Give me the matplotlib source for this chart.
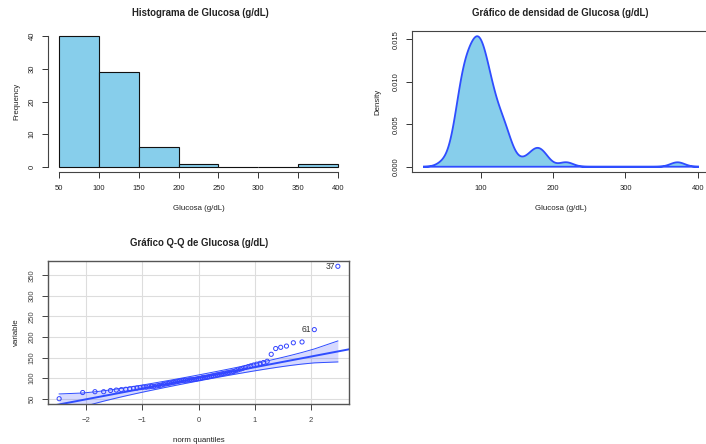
import numpy as np
import matplotlib
matplotlib.use("Agg")
import matplotlib.pyplot as plt
from math import erf, sqrt, pi

plt.rcParams['font.family'] = ['Liberation Sans', 'DejaVu Sans']

glucosa_bajos = [50, 65, 67, 67, 70, 71, 72, 73, 74, 75,
                 76, 77, 78, 78, 79, 80, 80, 81, 82, 83,
                 85, 86, 87, 88, 89, 90, 91, 92, 93, 94,
                 94, 95, 95, 96, 96, 97, 97, 98, 99, 99]
glucosa_medios = [101, 102, 102, 103, 104, 105, 106, 107, 108, 109,
                  110, 111, 112, 113, 114, 115, 116, 118, 120, 122,
                  124, 126, 128, 130, 132, 134, 136, 138, 141]
glucosa_altos = [158, 172, 175, 178, 186, 188, 218, 372]
ids_altos = ['61', '37']  # etiquetas de los dos extremos

bins_hist = [50, 100, 150, 200, 250, 300, 350, 400]
ticks_hist_x = [50, 100, 150, 200, 250, 300, 350, 400]
ticks_hist_y = [0, 10, 20, 30, 40]
ticks_dens_x = [100, 200, 300, 400]
ticks_dens_y = [0.000, 0.005, 0.010, 0.015]
ticks_qq_x = [-2, -1, 0, 1, 2]
ticks_qq_y = [50, 100, 150, 200, 250, 300, 350]

glucosa = np.array(glucosa_bajos + glucosa_medios + glucosa_altos, dtype=float)
n = len(glucosa)

W, H = 706, 444
fig = plt.figure(figsize=(W / 100, H / 100), dpi=100)


def px(l, t, r, b):
    return [l / W, 1 - b / H, (r - l) / W, (b - t) / H]


def r_range(lo, hi):
    # margen del 4% como en R
    d = (hi - lo) * 0.04
    return lo - d, hi + d


def qnorm(p):
    lo, hi = -10.0, 10.0
    for _ in range(80):
        mid = (lo + hi) / 2
        if 0.5 * (1 + erf(mid / sqrt(2))) < p:
            lo = mid
        else:
            hi = mid
    return (lo + hi) / 2


AXCOL = '#333333'
TXT = '#222222'
AZUL = '#2f4dff'
fs_tick = 5.5
fs_lab = 5.7
fs_title = 6.9

# ---------- histograma ----------
ax1 = fig.add_axes(px(48, 31, 349, 172))
ax1.hist(glucosa, bins=bins_hist, color='#87CEEB', edgecolor='#111111', linewidth=0.8)
ax1.set_xlim(*r_range(50, 400))
ax1.set_ylim(*r_range(0, 40))
for s in ['top', 'right']:
    ax1.spines[s].set_visible(False)
ax1.spines['left'].set_bounds(0, 40)
ax1.spines['bottom'].set_bounds(50, 400)
ax1.set_xticks(ticks_hist_x)
ax1.set_yticks(ticks_hist_y)
ax1.set_yticklabels([str(t) for t in ticks_hist_y], rotation=90, va='center')
ax1.set_xlabel('Glucosa (g/dL)', fontsize=fs_lab, labelpad=10, color=TXT)
ax1.set_ylabel('Frequency', fontsize=fs_lab, labelpad=6, color=TXT)
fig.text(200 / W, 1 - 13 / H, 'Histograma de Glucosa (g/dL)', ha='center', va='center',
         fontsize=fs_title, fontweight='bold', color=TXT)

# ---------- densidad (kernel gaussiano, bw.nrd0 como R) ----------
q1, q3 = np.percentile(glucosa, [25, 75])
bw = 0.9 * min(glucosa.std(ddof=1), (q3 - q1) / 1.34) * n ** -0.2
xs = np.linspace(glucosa.min() - 3 * bw, glucosa.max() + 3 * bw, 512)
dens = np.exp(-0.5 * ((xs[:, None] - glucosa[None, :]) / bw) ** 2).sum(axis=1) / (n * bw * np.sqrt(2 * np.pi))

ax2 = fig.add_axes(px(412, 31, 710, 172))
ax2.fill(xs, dens, facecolor='#87CEEB', edgecolor=AZUL, linewidth=1.3)
ax2.set_xlim(*r_range(xs.min(), xs.max()))
ax2.set_ylim(*r_range(0, dens.max()))
ax2.set_xticks(ticks_dens_x)
ax2.set_yticks(ticks_dens_y)
ax2.set_yticklabels([f'{t:.3f}' for t in ticks_dens_y], rotation=90, va='center')
ax2.set_xlabel('Glucosa (g/dL)', fontsize=fs_lab, labelpad=10, color=TXT)
ax2.set_ylabel('Density', fontsize=fs_lab, labelpad=8, color=TXT)
fig.text(560 / W, 1 - 13 / H, 'Gráfico de densidad de Glucosa (g/dL)', ha='center', va='center',
         fontsize=fs_title, fontweight='bold', color=TXT)

# ---------- grafico Q-Q (estilo car::qqPlot) ----------
P = (np.arange(1, n + 1) - 0.5) / n
z = np.array([qnorm(p) for p in P])
z1, z3 = qnorm(0.25), qnorm(0.75)
b = (q3 - q1) / (z3 - z1)
a = q1 - b * z1
fit = a + b * z
dz = np.exp(-0.5 * z ** 2) / np.sqrt(2 * pi)
se = (b / dz) * np.sqrt(P * (1 - P) / n)
zz = qnorm(0.975)
upper = fit + zz * se
lower = fit - zz * se

ax3 = fig.add_axes(px(48, 261, 349, 404))
xl = r_range(z.min(), z.max())
ax3.set_xlim(*xl)
ax3.set_ylim(*r_range(glucosa.min(), glucosa.max()))
ax3.set_xticks(ticks_qq_x)
ax3.set_yticks(ticks_qq_y)
ax3.grid(True, color='#dddddd', linewidth=0.8)
ax3.set_axisbelow(True)
ax3.fill_between(z, lower, upper, color='#3344ff', alpha=0.2, linewidth=0)
ax3.plot(z, upper, color=AZUL, linewidth=0.7)
ax3.plot(z, lower, color=AZUL, linewidth=0.7)
ax3.plot(list(xl), [a + b * xl[0], a + b * xl[1]], color=AZUL, linewidth=1.4)
ax3.scatter(z, glucosa, s=9, facecolors='none', edgecolors='#3344ff', linewidths=0.7, zorder=3)
for k, lab in zip([n - 2, n - 1], ids_altos):
    ax3.text(z[k] - 0.05, glucosa[k], lab, ha='right', va='center', fontsize=6.2, color='#333333')
ax3.set_yticklabels([str(t) for t in ticks_qq_y], rotation=90, va='center')
ax3.set_xlabel('norm quantiles', fontsize=fs_lab, labelpad=10, color=TXT)
ax3.set_ylabel('variable', fontsize=fs_lab, labelpad=6, color=TXT)
fig.text(199 / W, 1 - 243 / H, 'Gráfico Q-Q de Glucosa (g/dL)', ha='center', va='center',
         fontsize=fs_title, fontweight='bold', color=TXT)

for ax in (ax1, ax2, ax3):
    ax.tick_params(labelsize=fs_tick, length=4, width=0.7, colors=AXCOL, labelcolor=TXT, pad=5)
    for s in ax.spines.values():
        s.set_color('#444444')
        s.set_linewidth(0.8)
ax3.tick_params(axis='both', colors='#444444')
for s in ax3.spines.values():
    s.set_color('#555555')
    s.set_linewidth(1.0)

fig.savefig('out.png', dpi=100)
